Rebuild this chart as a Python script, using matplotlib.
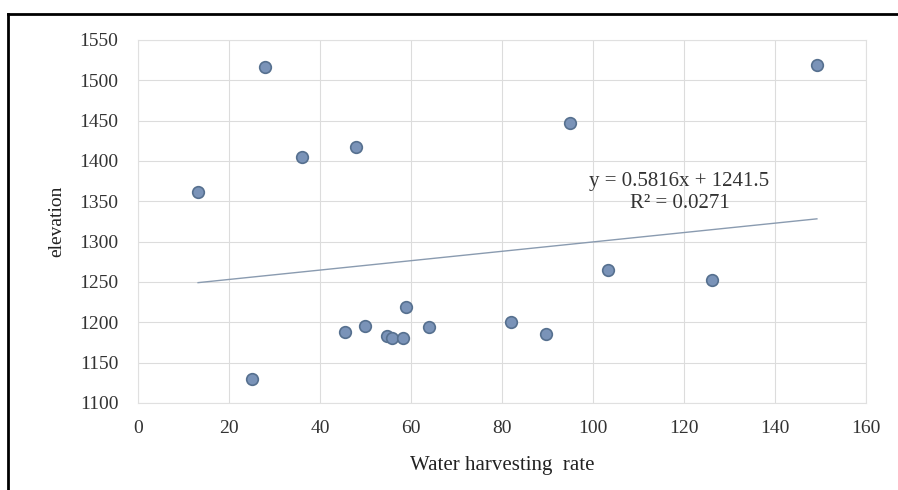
import matplotlib.pyplot as plt
from matplotlib.lines import Line2D

# values
harvest_rate = [13.2, 25.0, 27.9, 36.0, 45.5, 47.9, 49.9, 54.7, 55.8, 58.3,
                58.9, 64.0, 82.0, 89.7, 95.0, 103.3, 126.2, 149.2]
elevation = [1362, 1130, 1517, 1405, 1188, 1417, 1195, 1183, 1181, 1180,
             1219, 1194, 1201, 1186, 1447, 1265, 1253, 1519]
slope = 0.5816
intercept = 1241.5
r_squared = 0.0271
x_ticks = [0, 20, 40, 60, 80, 100, 120, 140, 160]
y_ticks = [1100, 1150, 1200, 1250, 1300, 1350, 1400, 1450, 1500, 1550]

plt.rcParams['font.family'] = ['Liberation Serif', 'DejaVu Serif']

fig = plt.figure(figsize=(8.98, 4.90), dpi=100)
ax = fig.add_axes([0.1537, 0.1776, 0.8107, 0.7408])

# trendline over the data range
x0, x1 = min(harvest_rate), max(harvest_rate)
ax.plot([x0, x1], [slope * x0 + intercept, slope * x1 + intercept],
        color='#8a9bb0', lw=1.0, zorder=2)

ax.scatter(harvest_rate, elevation, s=70, color='#7a93b8',
           edgecolors='#56708f', linewidths=1.2, zorder=3)

ax.set_xlim(0, 160)
ax.set_ylim(1100, 1550)
ax.set_xticks(x_ticks)
ax.set_yticks(y_ticks)
ax.tick_params(length=0, labelsize=14, colors='#333333')
ax.tick_params(axis='y', pad=14)
ax.tick_params(axis='x', pad=12)
ax.grid(color='#dcdcdc', lw=0.8)
ax.set_axisbelow(True)
for side in ['top', 'right', 'bottom', 'left']:
    ax.spines[side].set_color('#e0e0e0')
    ax.spines[side].set_linewidth(0.8)

ax.set_xlabel('Water harvesting  rate', fontsize=15, labelpad=14, color='#222222')
ax.set_ylabel('elevation', fontsize=14, labelpad=10, color='#222222')

ax.text(119, 1374, f'y = {slope}x + {intercept}', fontsize=15,
        ha='center', va='center', color='#333333')
ax.text(119, 1347, f'R² = {r_squared}', fontsize=15,
        ha='center', va='center', color='#333333')

# page frame lines from the original document crop
fig.add_artist(Line2D([8 / 898, 1], [1 - 14 / 490, 1 - 14 / 490],
                      transform=fig.transFigure, color='black', lw=2))
fig.add_artist(Line2D([8 / 898, 8 / 898], [0, 1 - 14 / 490],
                      transform=fig.transFigure, color='black', lw=2))

fig.savefig('out.png', dpi=100)
plt.close(fig)
